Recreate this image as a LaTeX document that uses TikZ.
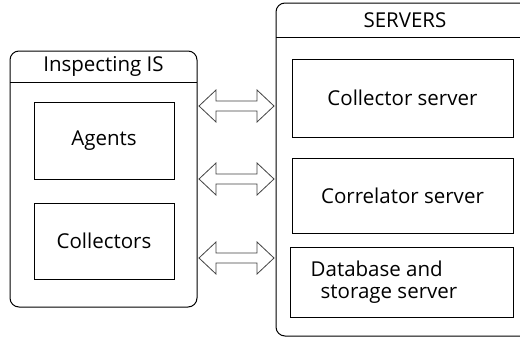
\documentclass[tikz,border=0pt]{standalone}
\usepackage{fontspec}
\setmainfont{Open Sans}
\usetikzlibrary{calc}

\begin{document}
\begin{tikzpicture}[x=1pt,y=-1pt]

\tikzset{txt/.style={font=\fontsize{20.5}{22}\selectfont}}
\tikzset{group/.style={draw,line width=1pt,rounded corners=9pt,inner sep=0pt,outer sep=0pt}}
\tikzset{unit/.style={draw,line width=1pt,inner sep=0pt,outer sep=0pt,txt}}
\tikzset{dblarrow/.style={draw=black!75,line width=0.8pt,
  to path={let \p1=(\tikztostart), \p2=(\tikztotarget) in
    (\x1+2pt,\y1) -- (\x1+19pt,\y1+16pt) -- (\x1+19pt,\y1+5pt)
    -- (\x2-19pt,\y1+5pt) -- (\x2-19pt,\y1+16pt) -- (\x2-2pt,\y1)
    -- (\x2-19pt,\y1-16pt) -- (\x2-19pt,\y1-5pt)
    -- (\x1+19pt,\y1-5pt) -- (\x1+19pt,\y1-16pt) -- cycle}}}

\clip (0,0) rectangle (520,338);

\node[group,minimum width=187pt,minimum height=256pt] (inspect) at (103.5,179) {};
\node[group,minimum width=258pt,minimum height=333pt] (servers) at (405,169.5) {};
\draw[line width=1pt] (inspect.west |- 0,82) -- (inspect.east |- 0,82);
\draw[line width=1pt] (servers.west |- 0,37) -- (servers.east |- 0,37);
\node[txt] (inspecttitle) at (103.5,66.5) {Inspecting IS};
\node[txt] (serverstitle) at (405,20) {SERVERS};

\node[unit,minimum width=140pt,minimum height=77pt] (agents) at (104,140.5) {Agents};
\node[unit,minimum width=140pt,minimum height=76pt] (collectors) at (104,241) {Collectors};

\node[unit,minimum width=221pt,minimum height=78pt] (collsrv) at (402.5,98) {Collector server};
\node[unit,minimum width=221pt,minimum height=75pt] (corrsrv) at (402.5,195.5) {Correlator server};
\node[unit,minimum width=223pt,minimum height=70pt] (dbsrv) at (401.5,282) {};
\node[txt,align=left,inner sep=0pt] (dbtext) at (384,282) {Database and\\ \hspace*{10pt}storage server};

\foreach \ya in {106,179,258}
  \draw[dblarrow] (inspect.east |- 0,\ya) to (servers.west |- 0,\ya);

\end{tikzpicture}
\end{document}
